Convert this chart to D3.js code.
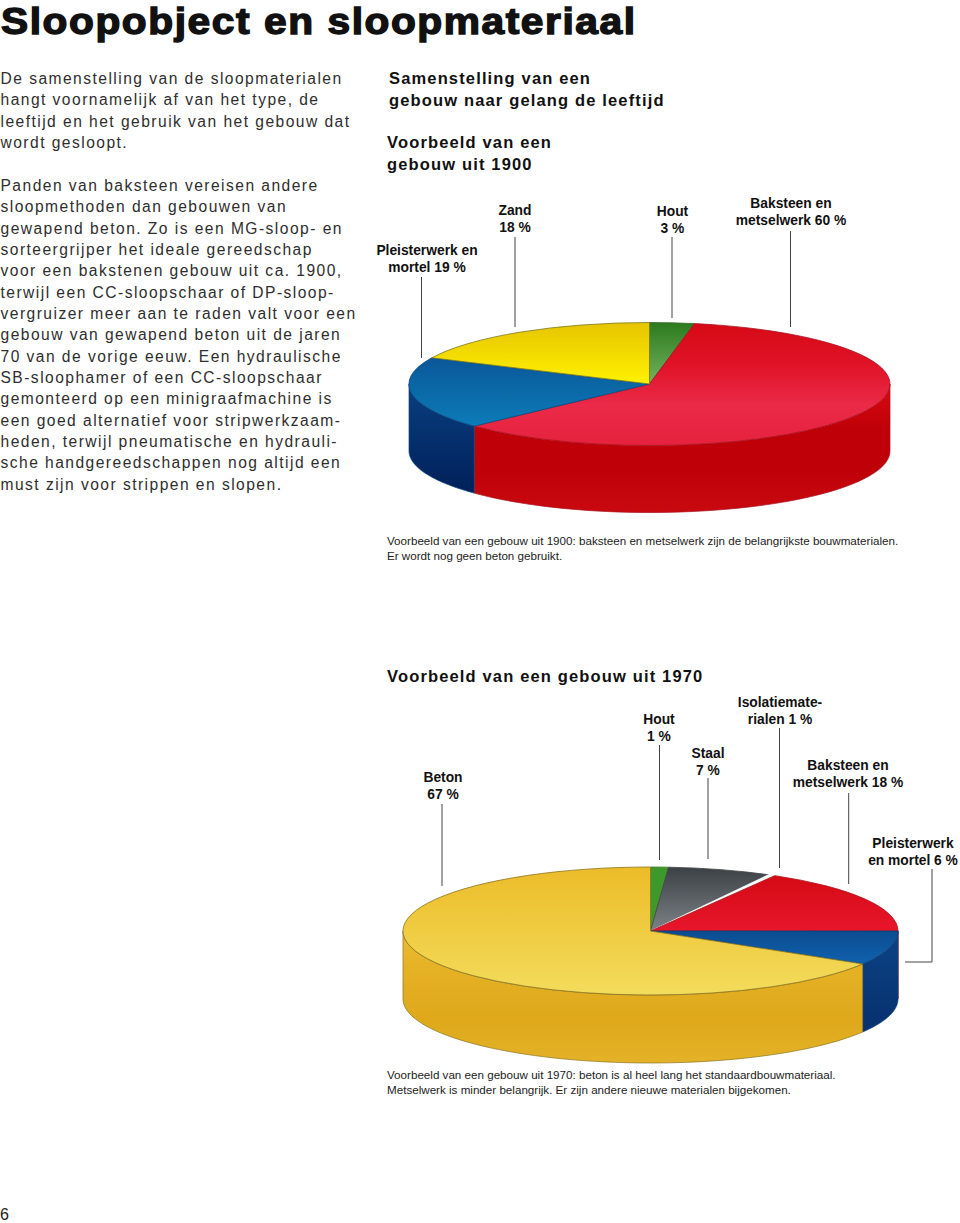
<!DOCTYPE html>
<html><head><meta charset="utf-8">
<script src="https://cdn.jsdelivr.net/npm/d3@7/dist/d3.min.js"></script>
<style>html,body{margin:0;padding:0;background:#fff}svg{display:block}text{font-family:"Liberation Sans",Arial,sans-serif;fill:#1a1a1a}</style>
</head><body><div id="chart"></div>
<script>
const titleText = "Sloopobject en sloopmateriaal";
const bodyLines = [
 ["De samenstelling van de sloopmaterialen",84],["hangt voornamelijk af van het type, de",105],["leeftijd en het gebruik van het gebouw dat",127],["wordt gesloopt.",148],
 ["Panden van baksteen vereisen andere",191],["sloopmethoden dan gebouwen van",212],["gewapend beton. Zo is een MG-sloop- en",234],["sorteergrijper het ideale gereedschap",255],["voor een bakstenen gebouw uit ca. 1900,",276],
 ["terwijl een CC-sloopschaar of DP-sloop-",298],["vergruizer meer aan te raden valt voor een",319],["gebouw van gewapend beton uit de jaren",340],["70 van de vorige eeuw. Een hydraulische",362],["SB-sloophamer of een CC-sloopschaar",383],["gemonteerd op een minigraafmachine is",404],["een goed alternatief voor stripwerkzaam-",426],["heden, terwijl pneumatische en hydrauli-",447],["sche handgereedschappen nog altijd een",468],["must zijn voor strippen en slopen.",490]
];
const headings = [
 ["Samenstelling van een",389,84],["gebouw naar gelang de leeftijd",389,106],
 ["Voorbeeld van een",387,148],["gebouw uit 1900",387,170],
 ["Voorbeeld van een gebouw uit 1970",387,682]
];
const captions = [
 ["Voorbeeld van een gebouw uit 1900: baksteen en metselwerk zijn de belangrijkste bouwmaterialen.",545],
 ["Er wordt nog geen beton gebruikt.",560],
 ["Voorbeeld van een gebouw uit 1970: beton is al heel lang het standaardbouwmateriaal.",1079],
 ["Metselwerk is minder belangrijk. Er zijn andere nieuwe materialen bijgekomen.",1094]
];
// slice shares as drawn, clockwise from 12 o'clock
const names1900 = ["Hout","Baksteen en metselwerk","Pleisterwerk en mortel","Zand"];
const values1900 = [3,60,19,18];
const names1970 = ["Hout","Staal","Isolatiematerialen","Baksteen en metselwerk","Pleisterwerk en mortel","Beton"];
const values1970 = [1.17,6.75,0.45,16.65,8.6,66.4];
const topColors1900 = [["#2c7a1e","#75b35f"],["#d60a16","#e01226","#ea2a48","#e6223e"],["#0a5798","#0c7cb8"],["#e6c400","#fff200"]];
const sideColors1900 = [["#888","#888"],["#dc0a14","#c00008","#c00008","#c80a10"],["#0a3f80","#00205a"],["#888","#888"]];
const topColors1970 = [["#3d9a2a","#3d9a2a"],["#3c4145","#7d8286"],["#ffffff","#ffffff"],["#d40a14","#e8162c"],["#0b4c90","#1062ae"],["#ecbc28","#f3dc5c"]];
const sideColors1970 = [["#888","#888"],["#888","#888"],["#888","#888"],["#888","#888"],["#0c4384","#07306e"],["#eabc30","#e4b024","#dea81a","#e4b228"]];
// labels: text lines, centre x, first baseline
const labels = [
 [["Pleisterwerk en","mortel 19 %"],427,255],[["Zand","18 %"],515,215],[["Hout","3 %"],672.5,216],[["Baksteen en","metselwerk 60 %"],791,208],
 [["Beton","67 %"],443,782],[["Hout","1 %"],659,724],[["Staal","7 %"],708,758],[["Isolatiemate-","rialen 1 %"],780,707],[["Baksteen en","metselwerk 18 %"],848,770],[["Pleisterwerk","en mortel 6 %"],913,848]
];
// leader lines x1,y1,x2,y2
const leaders = [
 [421.5,277,421.5,358],[515,237,515,327],[672,237,672,318],[790.5,231,790.5,327],
 [442,804,442,886],[659.5,745,659.5,860],[708,778,708,859],[779.5,728,779.5,868],[848.7,793,848.7,884],
 [932,869,932,962],[932,962,905,962]
];

const svg = d3.select("#chart").append("svg").attr("width",960).attr("height",1223);
const defs = svg.append("defs");

svg.append("text").text(titleText).attr("transform","translate(1,33.5) scale(1.1,1)").attr("font-size",37).attr("font-weight",700)
  .attr("letter-spacing",1.43).attr("stroke","#111").attr("stroke-width",1.4).style("fill","#111");
svg.append("g").selectAll("text").data(bodyLines).join("text").text(d=>d[0]).attr("x",0.5).attr("y",d=>d[1])
  .attr("font-size",15.6).attr("letter-spacing",1.46).style("fill","#2e2e2e");
svg.append("g").selectAll("text").data(headings).join("text").text(d=>d[0]).attr("x",d=>d[1]).attr("y",d=>d[2])
  .attr("font-size",16.5).attr("font-weight",700).attr("letter-spacing",1.15).style("fill","#111");
svg.append("g").selectAll("text").data(captions).join("text").text(d=>d[0]).attr("x",387).attr("y",d=>d[1])
  .attr("font-size",11.63).style("fill","#222");
svg.append("text").text("6").attr("x",0).attr("y",1220).attr("font-size",16).style("fill","#222");

const lab = svg.append("g").selectAll("g").data(labels).join("g");
lab.selectAll("text").data(d=>d[0].map((t,i)=>({t,x:d[1],y:d[2]+i*17}))).join("text")
  .text(d=>d.t).attr("x",d=>d.x).attr("y",d=>d.y).attr("text-anchor","middle").attr("font-size",13.8).attr("font-weight",700).style("fill","#111");
svg.append("g").selectAll("line").data(leaders).join("line")
  .attr("x1",d=>d[0]).attr("y1",d=>d[1]).attr("x2",d=>d[2]).attr("y2",d=>d[3]).attr("stroke","#444").attr("stroke-width",1);

function grad(id,c,x2,y2){
  const g = defs.append("linearGradient").attr("id",id).attr("x1",0).attr("y1",0).attr("x2",x2).attr("y2",y2);
  g.selectAll("stop").data(c).join("stop").attr("offset",(d,i)=>i/(c.length-1)).attr("stop-color",d=>d);
}
function pie3d(key,values,topC,sideC,cx,cy,rx,ry,depth,edge){
  const arcs = d3.pie().sort(null).startAngle(0).endAngle(2*Math.PI)(values);
  const px = t=>cx+rx*Math.sin(t), py=t=>cy-ry*Math.cos(t);
  const line = d3.line();
  const g = svg.append("g");
  arcs.forEach((a,i)=>{
    const s=Math.max(a.startAngle,Math.PI/2), e=Math.min(a.endAngle,1.5*Math.PI);
    if(e<=s) return;
    const ts=d3.range(0,61).map(k=>s+(e-s)*k/60);
    const upper=ts.map(t=>[px(t),py(t)]), lower=ts.slice().reverse().map(t=>[px(t),py(t)+depth]);
    grad(`${key}s${i}`,sideC[i],0,1);
    g.append("path").attr("d",line(upper.concat(lower))+"Z").attr("fill",`url(#${key}s${i})`).attr("stroke",edge[i]).attr("stroke-width",0.7);
  });
  const arc = d3.arc().innerRadius(0).outerRadius(1);
  const top = g.append("g").attr("transform",`translate(${cx},${cy}) scale(${rx},${ry})`);
  arcs.forEach((a,i)=>{
    grad(`${key}t${i}`,topC[i],0,1);
    top.append("path").attr("d",arc(a)).attr("fill",`url(#${key}t${i})`).attr("stroke",edge[i]).attr("stroke-width",0.8).attr("vector-effect","non-scaling-stroke");
  });
}
pie3d("a",values1900,topColors1900,sideColors1900,649.5,384,240.5,61.5,67,["#3a6a2a","#a8101c","#0b4a80","#7a7a20"]);
pie3d("b",values1970,topColors1970,sideColors1970,650.5,931,247.5,64,68,["#3a7a2a","#444","#fff","#b01018","#0b4078","#8a7420"]);
</script></body></html>
